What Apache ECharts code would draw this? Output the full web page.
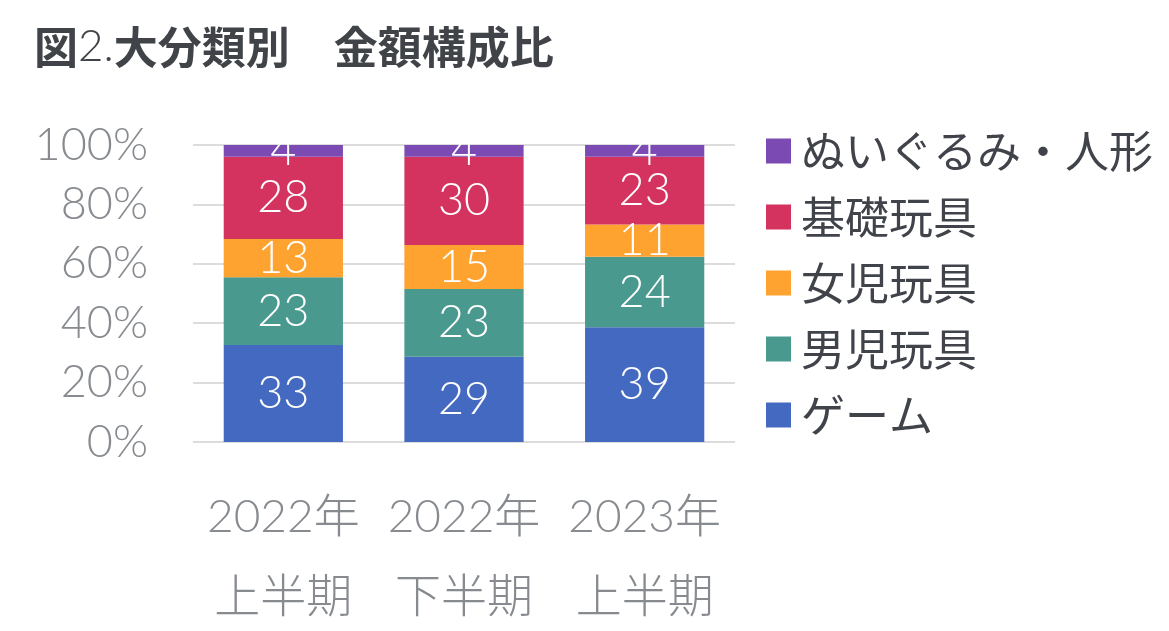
<!DOCTYPE html>
<html>
<head>
<meta charset="utf-8">
<script src="https://cdn.jsdelivr.net/npm/echarts@6/dist/echarts.min.js"></script>
<style>
html,body{margin:0;padding:0;background:#fff;}
#main{width:1169px;height:631px;}
</style>
</head>
<body>
<div id="main"></div>
<script>
var categories = ['2022年\n上半期', '2022年\n下半期', '2023年\n上半期'];
var seriesNames = ['ゲーム', '男児玩具', '女児玩具', '基礎玩具', 'ぬいぐるみ・人形'];
var game = [33, 29, 39];
var boys = [23, 23, 24];
var girls = [13, 15, 11];
var basic = [28, 30, 23];
var plush = [4, 4, 4];
var yTicks = [0, 20, 40, 60, 80, 100];
var colors = ['#4469C0', '#4A998E', '#FFA330', '#D4335F', '#7B4BB3'];

var raw = [game, boys, girls, basic, plush];
var totals = categories.map(function (c, i) {
  return raw.reduce(function (s, arr) { return s + arr[i]; }, 0);
});

var numFont = 'Lato, "Noto Sans CJK JP", sans-serif';
var cjkFont = '"Noto Sans CJK JP", sans-serif';

var series = raw.map(function (arr, k) {
  return {
    name: seriesNames[k],
    type: 'bar',
    stack: 'total',
    barWidth: '66%',
    itemStyle: { color: colors[k] },
    label: {
      show: true,
      position: 'inside',
      color: '#ffffff',
      fontFamily: numFont,
      fontWeight: 300,
      fontSize: 45,
      formatter: function (p) { return String(arr[p.dataIndex]); }
    },
    data: arr.map(function (v, i) { return v / totals[i] * 100; })
  };
});

var chart = echarts.init(document.getElementById('main'));
chart.setOption({
  animation: false,
  backgroundColor: '#ffffff',
  title: {
    text: '図{l|2.}大分類別　金額構成比',
    left: 29,
    top: 20,
    textStyle: {
      fontFamily: cjkFont,
      fontWeight: 'bold',
      fontSize: 44,
      color: '#404449',
      rich: {
        l: { fontFamily: numFont, fontWeight: 300, fontSize: 44, color: '#404449' }
      }
    }
  },
  legend: {
    orient: 'vertical',
    left: 761,
    top: 124,
    itemWidth: 25,
    itemHeight: 25,
    itemGap: 22,
    icon: 'rect',
    data: seriesNames.slice().reverse(),
    textStyle: {
      fontFamily: cjkFont,
      fontSize: 44,
      color: '#40444a',
      padding: [0, 0, 0, 5]
    }
  },
  grid: { left: 193, right: 434, top: 145, bottom: 189, outerBoundsMode: 'none', containLabel: false },
  xAxis: {
    type: 'category',
    data: categories,
    axisLine: { show: false },
    axisTick: { show: false },
    axisLabel: {
      interval: 0,
      margin: 35,
      fontFamily: numFont,
      fontWeight: 300,
      fontSize: 46,
      lineHeight: 80,
      color: '#878b90'
    }
  },
  yAxis: {
    type: 'value',
    min: 0,
    max: 100,
    interval: 20,
    axisLine: { show: false },
    axisTick: { show: false },
    splitLine: { lineStyle: { color: '#dcdcdc', width: 2 } },
    axisLabel: {
      margin: 45,
      fontFamily: numFont,
      fontWeight: 300,
      fontSize: 45,
      color: '#878b90',
      formatter: function (v) { return yTicks.indexOf(v) >= 0 ? v + '%' : ''; }
    }
  },
  series: series
});
</script>
</body>
</html>
